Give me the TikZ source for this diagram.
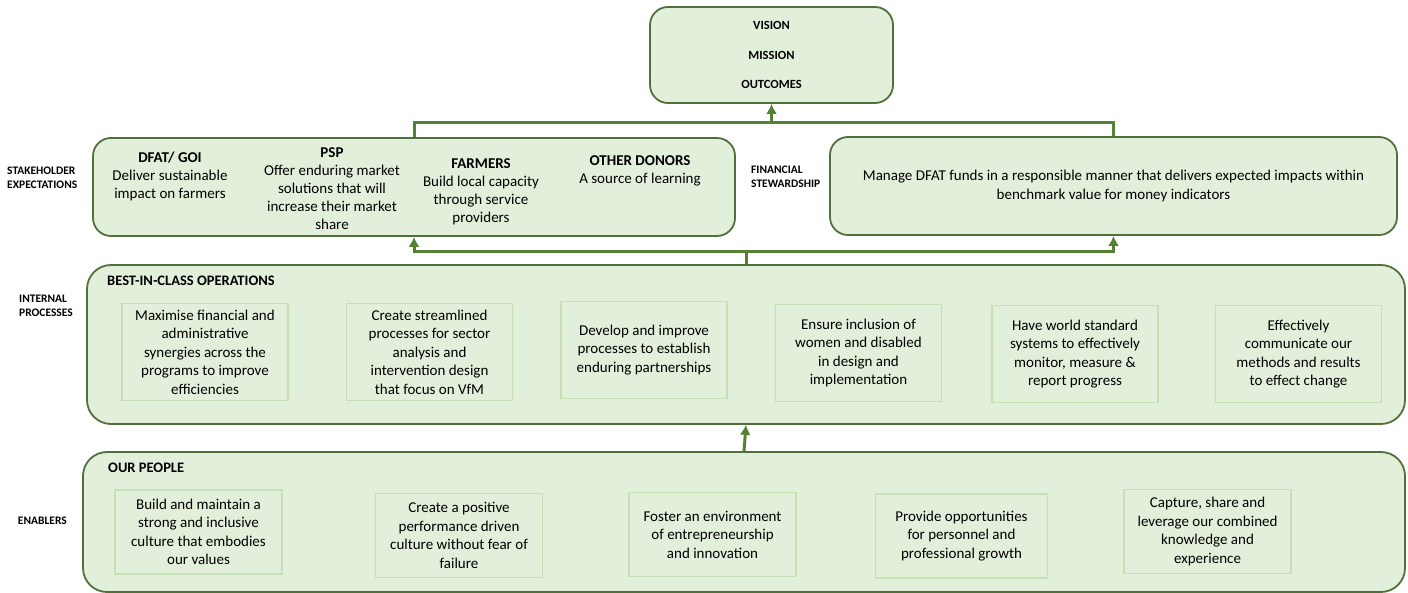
\documentclass[tikz,border=0pt]{standalone}
\usepackage{fontspec}
\setmainfont{Carlito}
\usetikzlibrary{positioning}
\usetikzlibrary{arrows.meta}
\definecolor{boxfill}{HTML}{E2EFDA}
\definecolor{boxline}{HTML}{52703C}
\definecolor{innerline}{HTML}{C6E0B4}
\definecolor{linkgreen}{HTML}{548235}
\newcommand{\bodysize}{\fontsize{15}{18.5}\selectfont}
\newcommand{\colsize}{\fontsize{15}{18}\selectfont}
\newcommand{\sidesize}{\fontsize{11.5}{13.5}\selectfont\bfseries}
\newcommand{\headsize}{\fontsize{14.5}{17}\selectfont\bfseries}
\newcommand{\visionsize}{\fontsize{12.5}{29.5}\selectfont\bfseries}
\tikzset{
	panel/.style={
		rectangle,
		draw=boxline,
		fill=boxfill,
		line width=1.8pt,
		rounded corners=18pt
	},
	cell/.style={
		rectangle,
		draw=innerline,
		fill=boxfill,
		line width=1.5pt,
		align=center,
		inner sep=0pt,
		minimum width=166pt,
		minimum height=97pt,
		font=\bodysize
	},
	col/.style={
		align=center,
		inner sep=0pt,
		anchor=north,
		font=\colsize
	},
	side/.style={
		align=left,
		inner sep=0pt,
		font=\sidesize
	},
	heading/.style={
		anchor=west,
		inner sep=0pt,
		font=\headsize
	},
	bus/.style={
		draw=linkgreen,
		line width=3pt
	},
	flow/.style={
		bus,
		-{Latex[length=10pt,width=11pt]}
	}
}

\begin{document}
\begin{tikzpicture}[x=1pt, y=-1pt]
		\useasboundingbox (0,0) rectangle (1408,593);

		% top of the chain
		\node[panel, minimum width=243pt, minimum height=96pt, align=center, font=\visionsize] (vision) at (771.5,55) {VISION\\MISSION\\OUTCOMES};

		% stakeholder expectations and financial stewardship
		\node[panel, minimum width=642pt, minimum height=98pt] (stake) at (414,187) {};
		\node[panel, minimum width=567pt, minimum height=98pt, align=center, font=\bodysize] (fin) at (1113.5,186) {Manage DFAT funds in a responsible manner that delivers expected impacts within\\benchmark value for money indicators};
		\node[col] (dfat) at (170,152) {\textbf{DFAT/ GOI}\\Deliver sustainable\\impact on farmers};
		\node[col] (psp) at (332,147) {\textbf{PSP}\\Offer enduring market\\solutions that will\\increase their market\\share};
		\node[col] (farmers) at (481,158) {\textbf{FARMERS}\\Build local capacity\\through service\\providers};
		\node[col] (donors) at (640,155) {\textbf{OTHER DONORS}\\A source of learning};
		\node[side, anchor=west] (stakelabel) at (7,178) {STAKEHOLDER\\EXPECTATIONS};
		\node[side, anchor=west] (finlabel) at (751,177) {FINANCIAL\\STEWARDSHIP};

		% internal processes
		\node[panel, rounded corners=24pt, minimum width=1318pt, minimum height=159pt] (ops) at (746,344.5) {};
		\node[heading] (opshead) at (107,281) {BEST-IN-CLASS OPERATIONS};
		\node[side, anchor=west] (opslabel) at (19,306) {INTERNAL\\PROCESSES};
		\node[cell] (ip1) at (205,352) {Maximise financial and\\administrative\\synergies across the\\programs to improve\\efficiencies};
		\node[cell, right=57pt of ip1] (ip2) {Create streamlined\\processes for sector\\analysis and\\intervention design\\that focus on VfM};
		\node[cell, right=47pt of ip2, yshift=2pt] (ip3) {Develop and improve\\processes to establish\\enduring partnerships};
		\node[cell, right=47pt of ip3, yshift=-3pt] (ip4) {Ensure inclusion of\\women and disabled\\in design and\\implementation};
		\node[cell, right=49pt of ip4, yshift=-1pt] (ip5) {Have world standard\\systems to effectively\\monitor, measure \&\\report progress};
		\node[cell, right=56pt of ip5] (ip6) {Effectively\\communicate our\\methods and results\\to effect change};

		% enablers
		\node[panel, rounded corners=24pt, minimum width=1322pt, minimum height=140pt] (people) at (744,522) {};
		\node[heading] (peoplehead) at (108,468) {OUR PEOPLE};
		\node[side, anchor=east] (peoplelabel) at (67,521) {ENABLERS};
		\node[cell, minimum width=167pt, minimum height=84pt] (en1) at (198.5,532) {Build and maintain a\\strong and inclusive\\culture that embodies\\our values};
		\node[cell, minimum width=167pt, minimum height=84pt, right=92pt of en1, yshift=-3.5pt] (en2) {Create a positive\\performance driven\\culture without fear of\\failure};
		\node[cell, minimum width=167pt, minimum height=84pt, right=85pt of en2, yshift=1pt] (en3) {Foster an environment\\of entrepreneurship\\and innovation};
		\node[cell, minimum width=172pt, minimum height=84pt, right=78pt of en3, yshift=-1.5pt] (en4) {Provide opportunities\\for personnel and\\professional growth};
		\node[cell, minimum width=167pt, minimum height=84pt, right=75pt of en4, yshift=4.5pt] (en5) {Capture, share and\\leverage our combined\\knowledge and\\experience};

		% connectors
		\coordinate (topbus) at ([yshift=-19pt]vision.south);
		\coordinate (midbus) at ([yshift=13pt]ops.north);
		\draw[bus] (stake.north) |- (topbus) -| (fin.north);
		\draw[flow] (topbus) -- (vision.south);
		\draw[bus] (ops.north) -- (midbus);
		\draw[flow] (midbus) -| (stake.south);
		\draw[flow] (midbus) -| (fin.south);
		\draw[flow] (people.north) -- (ops.south);
	\end{tikzpicture}
\end{document}
